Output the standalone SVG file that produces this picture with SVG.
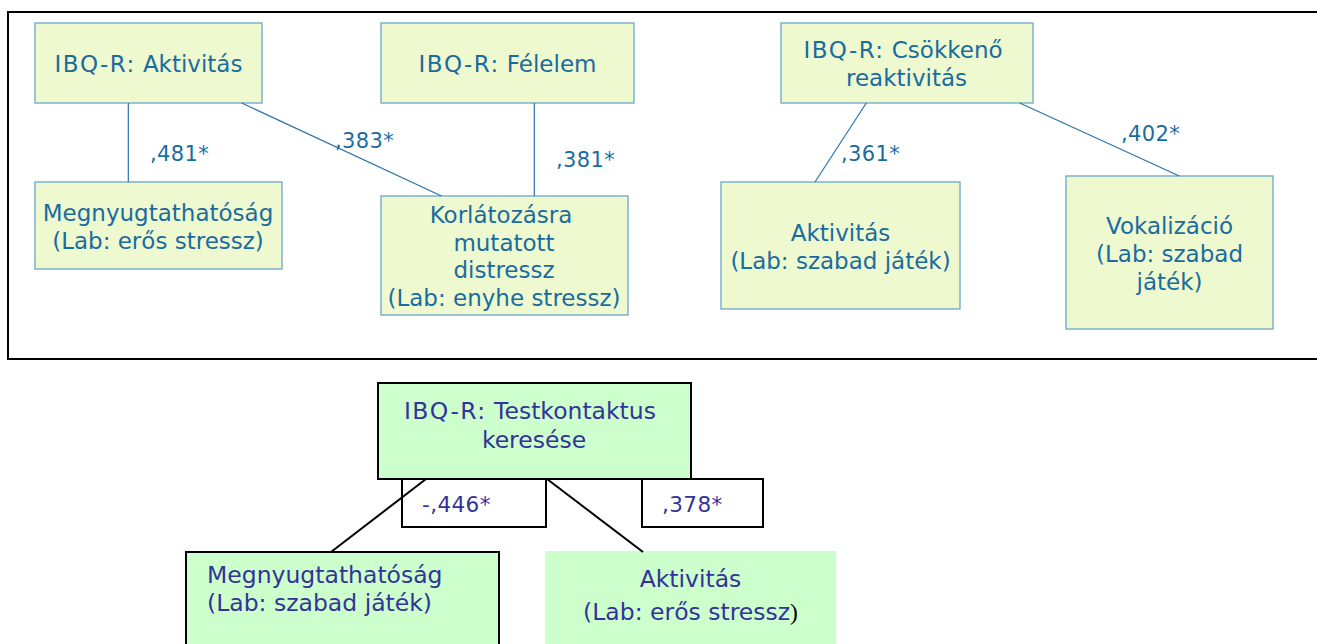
<svg xmlns="http://www.w3.org/2000/svg" width="1317" height="644" viewBox="0 0 1317 644">
<style>
.frame{fill:none;stroke:#000;stroke-width:2}
.tb{fill:#EEF9D0;stroke:#6AA6CA;stroke-width:1.3}
.tt{font-family:"DejaVu Sans",Verdana,sans-serif;font-size:23px;fill:#1A6C9F;text-anchor:middle}
.tl{font-family:"DejaVu Sans",Verdana,sans-serif;font-size:21px;fill:#1A6C9F;letter-spacing:0.4px}
.tc{stroke:#2A74A9;stroke-width:1.2;fill:none}
.bb{fill:#CCFFCC;stroke:#000;stroke-width:2}
.bn{fill:#CCFFCC;stroke:none}
.wb{fill:#fff;stroke:#000;stroke-width:2}
.bt{font-family:"DejaVu Sans",Verdana,sans-serif;font-size:23.5px;fill:#333399}
.bl{font-family:"DejaVu Sans",Verdana,sans-serif;font-size:21.5px;fill:#333399;letter-spacing:0.4px}
.bc{stroke:#000;stroke-width:2;fill:none}
.pre{letter-spacing:1.4px}
</style>
<rect class="frame" x="8" y="12" width="1330" height="347"/>
<g id="n-aktivitas-ibq">
<rect class="tb" x="35" y="23" width="227" height="80"/>
<text class="tt" x="148.5" y="72"><tspan class="pre">IBQ-R:</tspan> Aktivitás</text>
</g>
<g id="n-felelem">
<rect class="tb" x="381" y="23" width="253" height="80"/>
<text class="tt" x="507.5" y="72"><tspan class="pre">IBQ-R:</tspan> Félelem</text>
</g>
<g id="n-csokkeno">
<rect class="tb" x="781" y="23" width="252" height="80"/>
<text class="tt" x="903" y="58"><tspan class="pre">IBQ-R:</tspan> Csökkenő</text>
<text class="tt" x="906.5" y="86">reaktivitás</text>
</g>
<g id="n-megnyugt-eros">
<rect class="tb" x="35" y="182" width="247" height="87"/>
<text class="tt" x="158" y="221">Megnyugtathatóság</text>
<text class="tt" x="158" y="249">(Lab: erős stressz)</text>
</g>
<g id="n-korlatozas">
<rect class="tb" x="381" y="196" width="247" height="119"/>
<text class="tt" x="501" y="223">Korlátozásra</text>
<text class="tt" x="504" y="251">mutatott</text>
<text class="tt" x="504" y="278">distressz</text>
<text class="tt" x="504" y="306">(Lab: enyhe stressz)</text>
</g>
<g id="n-aktivitas-szabad">
<rect class="tb" x="721" y="182" width="239" height="127"/>
<text class="tt" x="840.5" y="241">Aktivitás</text>
<text class="tt" x="840.5" y="269">(Lab: szabad játék)</text>
</g>
<g id="n-vokalizacio">
<rect class="tb" x="1066" y="176" width="207" height="153"/>
<text class="tt" x="1169.5" y="234">Vokalizáció</text>
<text class="tt" x="1169.5" y="262">(Lab: szabad</text>
<text class="tt" x="1169.5" y="290">játék)</text>
</g>
<g id="n-testkontaktus">
<rect class="bb" x="378" y="383" width="313" height="96"/>
<text class="bt" x="530" y="419" text-anchor="middle"><tspan class="pre">IBQ-R:</tspan> Testkontaktus</text>
<text class="bt" x="534" y="448" text-anchor="middle">keresése</text>
</g>
<g id="n-lbl-446">
<rect class="wb" x="402" y="479" width="144" height="48"/>
<text class="bl" x="422" y="512">-,446*</text>
</g>
<g id="n-lbl-378">
<rect class="wb" x="642" y="479" width="121" height="48"/>
<text class="bl" x="662" y="512">,378*</text>
</g>
<g id="n-megnyugt-szabad">
<rect class="bb" x="186" y="552" width="313" height="110"/>
<text class="bt" x="207" y="582.5">Megnyugtathatóság</text>
<text class="bt" x="207" y="610.5">(Lab: szabad játék)</text>
</g>
<g id="n-aktivitas-eros">
<rect class="bn" x="545" y="551" width="291" height="110"/>
<text class="bt" x="690.5" y="587" text-anchor="middle">Aktivitás</text>
<text class="bt" x="690.5" y="620" text-anchor="middle">(Lab: erős stressz<tspan fill="#000" font-family="'Liberation Serif',serif">)</tspan></text>
</g>
<g id="connectors">
<line class="tc" x1="128.3" y1="103" x2="128.3" y2="182"/>
<line class="tc" x1="241.7" y1="103" x2="441.5" y2="196"/>
<line class="tc" x1="534.3" y1="103" x2="534.3" y2="196"/>
<line class="tc" x1="866.3" y1="103" x2="815" y2="182"/>
<line class="tc" x1="1019.7" y1="103" x2="1179.3" y2="176"/>
<line class="bc" x1="426" y1="479" x2="331" y2="552"/>
<line class="bc" x1="547" y1="479" x2="643" y2="552"/>
</g>
<g id="labels">
<text class="tl" x="150" y="161">,481*</text>
<text class="tl" x="335" y="148">,383*</text>
<text class="tl" x="556" y="167">,381*</text>
<text class="tl" x="841" y="161">,361*</text>
<text class="tl" x="1121" y="141">,402*</text>
</g>
</svg>
